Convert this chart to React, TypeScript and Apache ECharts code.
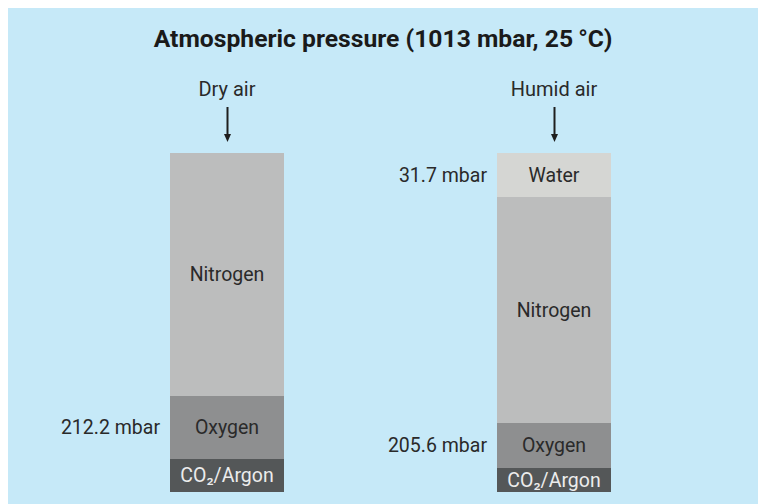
import React, { useEffect, useRef } from "react";
import * as echarts from "echarts";

// ---- data (segment heights, in drawing units) ----
const categories = ["Dry air", "Humid air"];
const co2Argon = [33, 24];
const oxygen = [63, 45];
const nitrogen = [243, 226];
const water: (number | string)[] = ["-", 44];
const oxygenPressure = ["212.2 mbar", "205.6 mbar"];
const waterPressure = ["", "31.7 mbar"];
const segmentNames = ["CO\u2082/Argon", "Oxygen", "Nitrogen", "Water"];
const titleText = "Atmospheric pressure (1013 mbar, 25\u2009\u00b0C)";

const FONT = "Roboto, 'Noto Sans', sans-serif";
const TEXT = "#2a2a2a";
const BG = "#c6e9f8";
const LABEL_SIZE = 19.5;

export default function App() {
  const ref = useRef<HTMLDivElement>(null);
  useEffect(() => {
    if (!ref.current) return;
    const chart = echarts.init(ref.current, null, { renderer: "svg" });
    const total = co2Argon[0] + oxygen[0] + nitrogen[0];
    const barWidth = 114;
    const segLabel = (color: string) => ({
      show: true,
      position: "inside" as const,
      formatter: "{a}",
      fontFamily: FONT,
      fontSize: LABEL_SIZE,
      color,
    });
    const noteSeries = (name: string, values: (number | string)[], notes: string[] | null) => ({
      type: "bar",
      name,
      stack: "notes",
      barWidth,
      barGap: "-100%",
      silent: true,
      data: values,
      itemStyle: { color: "rgba(0,0,0,0)" },
      label: notes
        ? {
            show: true,
            position: "left",
            distance: 10,
            fontFamily: FONT,
            fontSize: LABEL_SIZE,
            color: TEXT,
            formatter: (p: any) => notes[p.dataIndex] || "",
          }
        : { show: false },
    });
    chart.setOption({
      animation: false,
      backgroundColor: BG,
      title: {
        text: titleText,
        left: "center",
        top: 13,
        textStyle: { fontFamily: FONT, fontWeight: "bold", fontSize: 24.7, color: "#1a1a1a" },
      },
      grid: { left: 55.5, right: 40.5, top: 145, bottom: 12 },
      xAxis: {
        type: "category",
        data: categories,
        position: "top",
        axisLine: { show: false },
        axisTick: { show: false },
        axisLabel: { margin: 54, fontFamily: FONT, fontSize: 20, color: TEXT },
      },
      yAxis: { type: "value", min: 0, max: total, show: false, splitLine: { show: false } },
      series: [
        {
          type: "bar", name: segmentNames[0], stack: "air", barWidth, barGap: "-100%",
          data: co2Argon, itemStyle: { color: "#545758" }, label: segLabel("#ececec"),
        },
        {
          type: "bar", name: segmentNames[1], stack: "air", barWidth, barGap: "-100%",
          data: oxygen, itemStyle: { color: "#8e8f90" }, label: segLabel(TEXT),
        },
        {
          type: "bar", name: segmentNames[2], stack: "air", barWidth, barGap: "-100%",
          data: nitrogen, itemStyle: { color: "#bcbdbd" }, label: segLabel(TEXT),
        },
        {
          type: "bar", name: segmentNames[3], stack: "air", barWidth, barGap: "-100%",
          data: water, itemStyle: { color: "#d5d6d3" }, label: segLabel(TEXT),
        },
        noteSeries("n0", co2Argon, null),
        noteSeries("n1", oxygen, oxygenPressure),
        noteSeries("n2", nitrogen, null),
        noteSeries("n3", water, waterPressure),
      ],
    });
    // arrows above each bar, placed from the axis scales
    const topY = chart.convertToPixel({ yAxisIndex: 0 }, total) as number;
    const graphics: any[] = [];
    categories.forEach((_, i) => {
      const x = Math.round(chart.convertToPixel({ xAxisIndex: 0 }, i) as number) + 0.5;
      const tip = topY - 11;
      graphics.push({
        type: "line",
        shape: { x1: x, y1: topY - 46, x2: x, y2: tip - 6 },
        style: { stroke: "#1e1e1e", lineWidth: 2 },
        silent: true,
      });
      graphics.push({
        type: "polygon",
        shape: { points: [[x - 3.5, tip - 8], [x + 3.5, tip - 8], [x, tip]] },
        style: { fill: "#1e1e1e" },
        silent: true,
      });
    });
    chart.setOption({ graphic: graphics });
    return () => chart.dispose();
  }, []);
  return (
    <div
      ref={ref}
      style={{ position: "absolute", left: 8, top: 8, width: 750, height: 496 }}
    />
  );
}
